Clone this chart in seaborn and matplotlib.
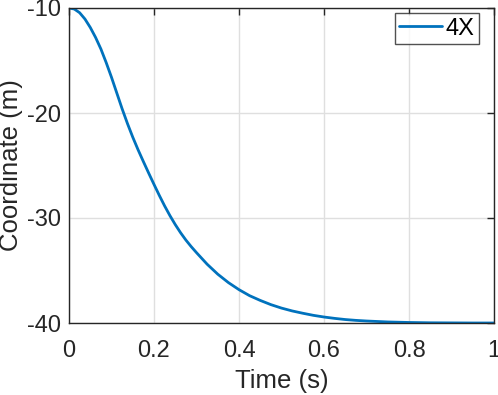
import matplotlib
matplotlib.use("Agg")
import matplotlib.pyplot as plt
import seaborn as sns
import pandas as pd

# values
time_s = [0, 0.0125, 0.025, 0.0375, 0.05, 0.0625, 0.075, 0.0875, 0.1, 0.1125,
          0.125, 0.1375, 0.15, 0.1625, 0.175, 0.1875, 0.2, 0.2125, 0.225, 0.2375,
          0.25, 0.2625, 0.275, 0.2875, 0.3, 0.325, 0.35, 0.375, 0.4, 0.425,
          0.45, 0.475, 0.5, 0.525, 0.55, 0.575, 0.6, 0.625, 0.65, 0.675,
          0.7, 0.75, 0.8, 0.85, 0.9, 0.95, 1.0]
coord_m = [-10, -10.1, -10.45, -11.05, -11.85, -12.8, -13.9, -15.2, -16.6, -18.1,
           -19.6, -21.0, -22.3, -23.5, -24.625, -25.725, -26.8, -27.85, -28.85, -29.775,
           -30.625, -31.4, -32.1, -32.725, -33.3, -34.4, -35.35, -36.15, -36.825, -37.4,
           -37.85, -38.25, -38.58, -38.85, -39.07, -39.27, -39.43, -39.56, -39.67, -39.75,
           -39.81, -39.9, -39.95, -39.98, -39.99, -40, -40]
series_name = "4X"
x_ticks = [0, 0.2, 0.4, 0.6, 0.8, 1]
x_labels = ["0", "0.2", "0.4", "0.6", "0.8", "1"]
y_ticks = [-40, -30, -20, -10]

df = pd.DataFrame({"t": time_s, "y": coord_m})

sns.set_style("white")
plt.rcParams['font.family'] = ['Liberation Sans', 'DejaVu Sans']
plt.rcParams['axes.unicode_minus'] = False

fig = plt.figure(figsize=(4.98, 3.95), dpi=100)
ax = fig.add_axes([69/498, (395-323)/395, 425/498, 315/395])

sns.lineplot(data=df, x="t", y="y", ax=ax, color="#0072BD", linewidth=2.0,
             label=series_name)

dark = "#262626"
ax.set_xlim(0, 1)
ax.set_ylim(-40, -10)
ax.set_xticks(x_ticks)
ax.set_xticklabels(x_labels)
ax.set_yticks(y_ticks)
ax.grid(True, color="#DFDFDF", linewidth=1.0)
ax.set_axisbelow(True)
for s in ax.spines.values():
    s.set_visible(True)
    s.set_color(dark)
    s.set_linewidth(1.0)
ax.tick_params(direction="in", length=5, width=1.0, colors=dark,
               labelsize=17, top=True, right=True)
ax.tick_params(axis="x", pad=12)
ax.tick_params(axis="y", pad=6)
ax.set_xlabel("Time (s)", fontsize=18.5, color=dark, labelpad=5)
ax.set_ylabel("Coordinate (m)", fontsize=18.5, color=dark, labelpad=3)

leg = ax.legend(loc="upper right", bbox_to_anchor=(0.965, 0.984),
                borderaxespad=0, fontsize=17, frameon=True, fancybox=False,
                handlelength=1.8, handletextpad=0.15, borderpad=0.2)
leg.get_frame().set_edgecolor(dark)
leg.get_frame().set_linewidth(1.0)
for txt in leg.get_texts():
    txt.set_color("black")

fig.savefig("out.png", dpi=100)
